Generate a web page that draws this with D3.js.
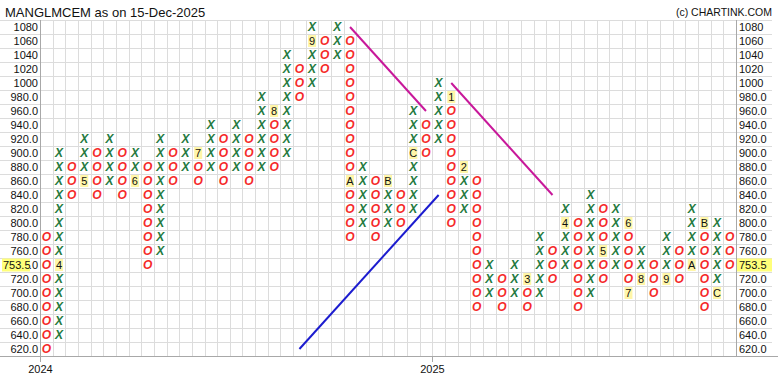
<!DOCTYPE html>
<html>
<head>
<meta charset="utf-8">
<script src="https://cdn.jsdelivr.net/npm/d3@7"></script>
<style>
    body { margin: 0; background: #fff; }
    svg { display: block; font-family: "Liberation Sans", Arial, sans-serif; }
    .grid line { stroke: #dcdcdc; stroke-width: 1; shape-rendering: crispEdges; }
    .axisline { stroke: #a8a8a8; stroke-width: 1; shape-rendering: crispEdges; }
    .lbl { font-size: 11px; fill: #111; }
    .mark { font-size: 12px; font-style: italic; font-weight: bold; }
    .mark.x { fill: #24793e; }
    .mark.o { fill: #f52a2a; }
    .month rect { fill: #fff6a8; }
    .month text { font-size: 11px; fill: #111; }
</style>
</head>
<body>
<svg id="chart" width="778" height="386"></svg>
<script>
// price boxes, top to bottom (box size 20)
const boxValues = d3.range(1080, 619, -20);
const boxLabels = boxValues.map(v => v >= 1000 ? String(v) : v.toFixed(1));

// one entry per column
const colTypes = ["O","X","O","X","O","X","O","X","O","X",
                  "O","X","O","X","O","X","O","X","O","X",
                  "O","X","O","X","O","X","O","X","O","X",
                  "O","X","O","X","O","X","O","X","O","X",
                  "O","X","O","X","O","X","O","X","O","X",
                  "O","X","O","X","O"];
const colHighs = [780, 900, 880, 920, 900, 920, 900, 900, 880, 920,
                  900, 920, 900, 940, 920, 940, 920, 980, 960, 1040,
                  1020, 1080, 1060, 1080, 1060, 880, 860, 860, 840, 960,
                  940, 1000, 980, 880, 860, 740, 720, 740, 720, 780,
                  760, 820, 800, 840, 820, 820, 800, 760, 740, 780,
                  760, 820, 800, 800, 780];
const colLows  = [620, 640, 840, 860, 840, 860, 840, 860, 740, 760,
                  860, 880, 860, 880, 860, 880, 860, 880, 880, 900,
                  980, 1000, 1020, 1040, 780, 800, 780, 800, 800, 820,
                  900, 920, 800, 820, 680, 700, 680, 700, 680, 700,
                  720, 740, 680, 700, 720, 740, 700, 720, 700, 720,
                  720, 740, 680, 700, 740];

// month markers that replace a box
const monthCols   = [1, 3, 7, 12, 18, 21, 24, 27, 29, 32, 33, 38, 41, 44, 46, 46, 47, 49, 51, 52, 53];
const monthValues = [740, 860, 860, 900, 960, 1060, 860, 860, 900, 980, 880, 720, 800, 760, 800, 700, 720, 720, 740, 800, 700];
const monthLabels = ["4","5","6","7","8","9","A","B","C","1","2","3","4","5","6","7","8","9","A","B","C"];

// trend lines, [column, price]
const trendFrom = [[24, 1080], [32, 1000], [20, 620]];
const trendTo   = [[30, 960],  [40, 840],  [31, 840]];
const trendColors = ["#c8189a", "#c8189a", "#1c1ccf"];

const yearCols = [0, 31];
const yearLabels = ["2024", "2025"];

const lastPrice = 753.5;
const lastBox = 740;
const title = "MANGLMCEM as on 15-Dec-2025";
const credit = "(c) CHARTINK.COM";

const nCols = colTypes.length;
const plotLeft = 40, plotRight = 736, plotTop = 20, plotBottom = 356;

let svg = d3.select("#chart");

// column edges / centers
let xEdge = d3.scaleLinear().domain([0, nCols]).range([plotLeft, plotRight]);
let xMid = (i) => xEdge(i + 0.5);
// box centers, half a box of padding top and bottom
let yMid = d3.scaleLinear()
    .domain([boxValues[0] + 10, boxValues[boxValues.length - 1] - 10])
    .range([plotTop, plotBottom]);

// grid
let grid = svg.append('g').attr('class', "grid");
d3.range(0, nCols + 1).forEach(i => {
    let x = Math.round(xEdge(i)) + 0.5;
    grid.append('line').attr('x1', x).attr('x2', x).attr('y1', plotTop).attr('y2', plotBottom);
});
d3.range(0, boxValues.length + 1).forEach(k => {
    let y = Math.round(yMid(boxValues[0] + 10 - k * 20)) + 0.5;
    grid.append('line').attr('x1', 0).attr('x2', 772).attr('y1', y).attr('y2', y);
});

// axis lines
svg.append('line').attr('class', "axisline")
    .attr('x1', plotLeft + 0.5).attr('x2', plotLeft + 0.5).attr('y1', plotTop).attr('y2', plotBottom + 6);
svg.append('line').attr('class', "axisline")
    .attr('x1', plotRight + 0.5).attr('x2', plotRight + 0.5).attr('y1', plotTop).attr('y2', plotBottom);
svg.append('line').attr('class', "axisline")
    .attr('x1', 0).attr('x2', 778).attr('y1', plotBottom + 0.5).attr('y2', plotBottom + 0.5);

// price labels on both sides
let labels = svg.append('g');
boxValues.forEach((v, k) => {
    labels.append('text').attr('class', "lbl")
        .attr('x', plotLeft - 2).attr('y', yMid(v)).attr('dy', "0.36em")
        .attr('text-anchor', "end").text(boxLabels[k]);
    if (v !== lastBox) {
        labels.append('text').attr('class', "lbl")
            .attr('x', plotRight + 3).attr('y', yMid(v)).attr('dy', "0.36em")
            .text(boxLabels[k]);
    }
});

// current price flags
[2, plotRight + 1].forEach(x => {
    let g = svg.append('g');
    let onLeft = x < plotLeft;
    g.append('rect').attr('x', x).attr('y', yMid(lastBox) - 6.5)
        .attr('width', onLeft ? 28 : 35).attr('height', 13).attr('fill', "#ffff7a");
    g.append('text').attr('class', "lbl")
        .attr('x', x + (onLeft ? 1 : 2)).attr('y', yMid(lastBox)).attr('dy', "0.36em")
        .text(lastPrice.toFixed(1));
});

// X and O columns
let monthKey = new Set(monthCols.map((c, i) => c + ":" + monthValues[i]));
let marks = svg.append('g');
colTypes.forEach((t, i) => {
    for (let v = colLows[i]; v <= colHighs[i]; v += 20) {
        if (monthKey.has(i + ":" + v)) continue;
        marks.append('text')
            .attr('class', "mark " + t.toLowerCase())
            .attr('x', xMid(i)).attr('y', yMid(v)).attr('dy', "0.36em")
            .attr('text-anchor', "middle").text(t);
    }
});

// month markers
let months = svg.append('g').attr('class', "month");
monthCols.forEach((c, i) => {
    months.append('rect')
        .attr('x', xMid(c) - 4).attr('y', yMid(monthValues[i]) - 6)
        .attr('width', 8).attr('height', 12);
    months.append('text')
        .attr('x', xMid(c)).attr('y', yMid(monthValues[i])).attr('dy', "0.36em")
        .attr('text-anchor', "middle").text(monthLabels[i]);
});

// trend lines
trendFrom.forEach((p, i) => {
    svg.append('line')
        .attr('x1', xMid(p[0])).attr('y1', yMid(p[1]))
        .attr('x2', xMid(trendTo[i][0])).attr('y2', yMid(trendTo[i][1]))
        .attr('stroke', trendColors[i]).attr('stroke-width', 2);
});

// year ticks
yearCols.forEach((c, i) => {
    let x = Math.round(xEdge(c)) + 0.5;
    svg.append('line').attr('class', "axisline")
        .attr('x1', x).attr('x2', x).attr('y1', plotBottom).attr('y2', plotBottom + 6);
    svg.append('text').attr('class', "lbl")
        .attr('x', x).attr('y', 369).attr('dy', "0.36em")
        .attr('text-anchor', "middle").text(yearLabels[i]);
});

// header
svg.append('text').attr('x', 5).attr('y', 17)
    .style('font-size', "13px").attr('fill', "#111").text(title);
svg.append('text').attr('x', 772).attr('y', 16)
    .attr('text-anchor', "end").style('font-size', "10.5px").attr('fill', "#111").text(credit);
</script>
</body>
</html>
